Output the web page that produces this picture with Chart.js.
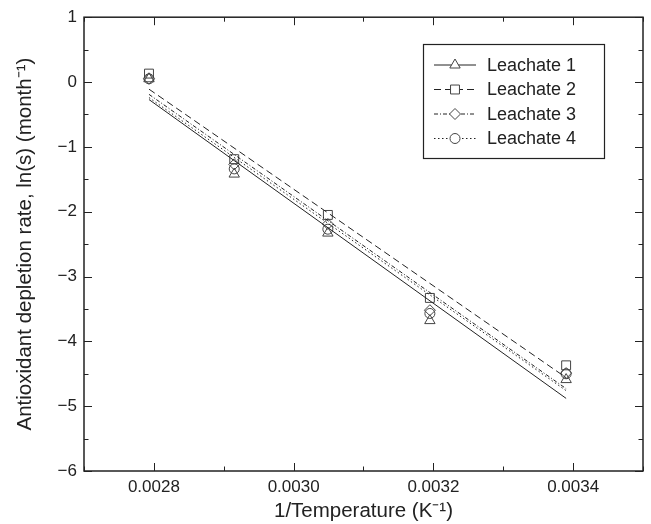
<!DOCTYPE html>
<html>
<head>
<meta charset="utf-8">
<script src="https://cdn.jsdelivr.net/npm/chart.js@4/dist/chart.umd.min.js"></script>
<style>
html,body{margin:0;padding:0;background:#fff;}
#wrap{width:651px;height:524px;position:relative;}
</style>
</head>
<body>
<div id="wrap"><canvas id="c" width="651" height="524"></canvas></div>
<script>
// ---- data ----
const seriesNames = ['Leachate 1', 'Leachate 2', 'Leachate 3', 'Leachate 4'];
const invTemp = [0.002793, 0.002915, 0.003049, 0.003195, 0.003390];
const leachate1 = [0.05, -1.42, -2.33, -3.68, -4.59];
const leachate2 = [0.13, -1.19, -2.05, -3.33, -4.37];
const leachate3 = [0.05, -1.27, -2.19, -3.52, -4.49];
const leachate4 = [0.05, -1.34, -2.27, -3.57, -4.50];
const fitX = [0.002793, 0.003390];
const fit1 = [-0.27, -4.88];
const fit2 = [-0.11, -4.56];
const fit3 = [-0.19, -4.73];
const fit4 = [-0.24, -4.76];
const xTickLabels = [0.0028, 0.0030, 0.0032, 0.0034];
const xMinorTicks = [0.0027, 0.0029, 0.0031, 0.0033, 0.0035];
const yTickValues = [1, 0, -1, -2, -3, -4, -5, -6];
const yMinorTicks = [0.5, -0.5, -1.5, -2.5, -3.5, -4.5, -5.5];

const FONT = 'Liberation Sans, Arial, Helvetica, sans-serif';
const INK = '#222';
const MARK = '#444';
const styles = [
  {shape: 'triangle', r: 6, dash: []},
  {shape: 'rect', r: 6.3, dash: [7, 4]},
  {shape: 'rectRot', r: 5.5, dash: [4, 2, 1, 2]},
  {shape: 'circle', r: 5, dash: [1.5, 2.5]}
];
const seriesVals = [leachate1, leachate2, leachate3, leachate4];
const fits = [fit1, fit2, fit3, fit4];

const datasets = [];
fits.forEach((f, i) => {
  datasets.push({
    label: seriesNames[i] + ' fit',
    data: fitX.map((x, k) => ({x: x, y: f[k]})),
    showLine: true, pointRadius: 0, borderColor: INK, borderWidth: 1,
    borderDash: styles[i].dash, fill: false
  });
});
seriesVals.forEach((vals, i) => {
  datasets.push({
    label: seriesNames[i],
    data: invTemp.map((x, k) => ({x: x, y: vals[k]})),
    showLine: false, pointStyle: styles[i].shape, pointRadius: styles[i].r,
    pointBorderColor: MARK, pointBackgroundColor: 'rgba(0,0,0,0)', pointBorderWidth: 1
  });
});

function minusFmt(v) {
  return v < 0 ? '\u2212' + Math.abs(v) : String(v);
}

const framePlugin = {
  id: 'frame',
  afterDraw(chart) {
    const {ctx, chartArea: a, scales} = chart;
    const xs = scales.x, ys = scales.y;
    ctx.save();
    ctx.strokeStyle = INK;
    ctx.lineWidth = 1.5;
    ctx.strokeRect(a.left, a.top, a.right - a.left, a.bottom - a.top);
    ctx.lineWidth = 1;
    const tick = (x1, y1, x2, y2) => { ctx.beginPath(); ctx.moveTo(x1, y1); ctx.lineTo(x2, y2); ctx.stroke(); };
    xTickLabels.forEach(v => { const p = Math.round(xs.getPixelForValue(v)) + 0.5; tick(p, a.bottom, p, a.bottom - 8); tick(p, a.top, p, a.top + 8); });
    xMinorTicks.forEach(v => { const p = Math.round(xs.getPixelForValue(v)) + 0.5; tick(p, a.bottom, p, a.bottom - 4.5); tick(p, a.top, p, a.top + 4.5); });
    yTickValues.forEach(v => { const p = Math.round(ys.getPixelForValue(v)) + 0.5; tick(a.left, p, a.left + 8, p); tick(a.right, p, a.right - 8, p); });
    yMinorTicks.forEach(v => { const p = Math.round(ys.getPixelForValue(v)) + 0.5; tick(a.left, p, a.left + 4.5, p); tick(a.right, p, a.right - 4.5, p); });

    // legend
    const bx = 423, by = 44, bw = 181, bh = 114;
    ctx.lineWidth = 1.2;
    ctx.strokeStyle = INK;
    ctx.strokeRect(bx + 0.5, by + 0.5, bw, bh);
    const rowY = [65, 89.5, 114, 138.5];
    seriesNames.forEach((name, i) => {
      const y = rowY[i];
      ctx.save();
      ctx.strokeStyle = INK;
      ctx.lineWidth = 1;
      ctx.setLineDash(styles[i].dash);
      ctx.beginPath(); ctx.moveTo(434, y); ctx.lineTo(476, y); ctx.stroke();
      ctx.restore();
      ctx.save();
      ctx.fillStyle = '#fff';
      ctx.strokeStyle = MARK;
      ctx.lineWidth = 1;
      Chart.helpers.drawPoint(ctx, {pointStyle: styles[i].shape, radius: styles[i].r, rotation: 0, borderWidth: 1}, 455, y);
      ctx.restore();
      ctx.fillStyle = INK;
      ctx.font = '18px ' + FONT;
      ctx.textBaseline = 'middle';
      ctx.textAlign = 'left';
      ctx.fillText(name, 487, y + 1);
    });
    ctx.restore();
  }
};

new Chart(document.getElementById('c'), {
  type: 'scatter',
  data: {datasets: datasets},
  options: {
    responsive: false,
    animation: false,
    devicePixelRatio: 1,
    layout: {padding: {left: 0, top: 15, right: 8, bottom: 0}},
    plugins: {legend: {display: false}, tooltip: {enabled: false}},
    scales: {
      x: {
        type: 'linear', min: 0.0027, max: 0.0035,
        afterBuildTicks: s => { s.ticks = xTickLabels.map(v => ({value: v})); },
        afterFit: s => { s.height = 53; },
        grid: {display: false, drawTicks: false},
        border: {display: false},
        ticks: {callback: v => Number(v).toFixed(4), color: INK, font: {family: FONT, size: 17}, padding: 6, maxRotation: 0, autoSkip: false},
        title: {display: true, text: '1/Temperature (K\u207B\u00B9)', color: INK, font: {family: FONT, size: 20.5}, padding: {top: 0, bottom: 0}}
      },
      y: {
        type: 'linear', min: -6, max: 1,
        afterBuildTicks: s => { s.ticks = yTickValues.map(v => ({value: v})); },
        afterFit: s => { s.width = 84; },
        grid: {display: false, drawTicks: false},
        border: {display: false},
        ticks: {callback: v => minusFmt(v), color: INK, font: {family: FONT, size: 17}, padding: 7, autoSkip: false},
        title: {display: true, text: 'Antioxidant depletion rate, ln(s) (month\u207B\u00B9)', color: INK, font: {family: FONT, size: 20.5}, padding: {top: 13, bottom: 0}}
      }
    }
  },
  plugins: [framePlugin]
});
</script>
</body>
</html>
